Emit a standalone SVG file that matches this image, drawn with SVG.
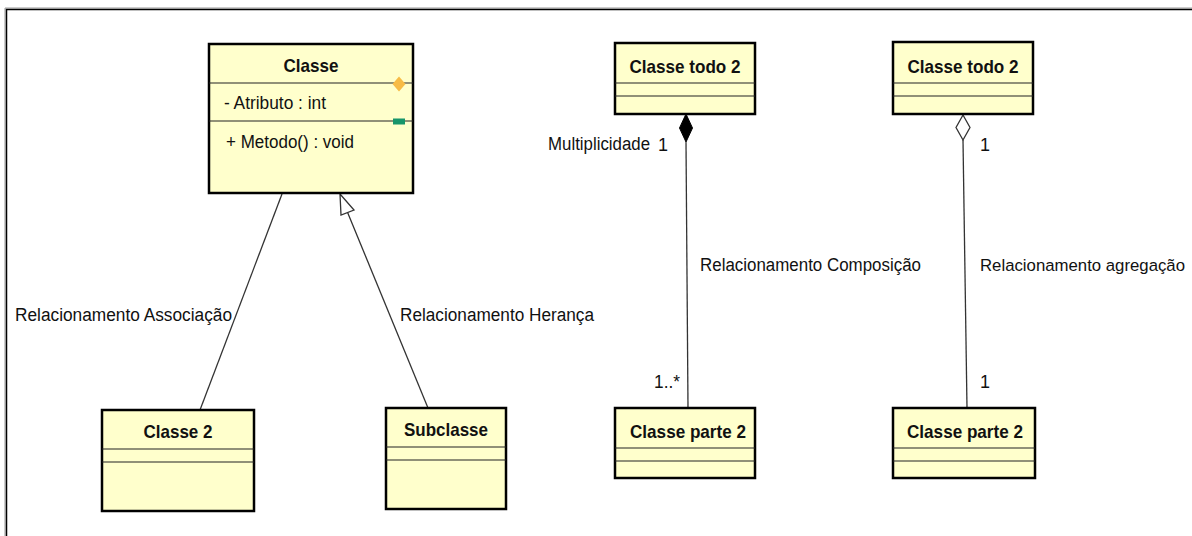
<svg xmlns="http://www.w3.org/2000/svg" width="1192" height="536" viewBox="0 0 1192 536">
<style>
  .box { fill: #ffffcc; stroke: #000; stroke-width: 2.5; }
  .sep { stroke: #222; stroke-width: 1.2; }
  .cls { font-family: "Liberation Sans", Arial, sans-serif; font-size: 19px; font-weight: bold; fill: #111; text-anchor: middle; }
  .lbl { font-family: "Liberation Sans", Arial, sans-serif; font-size: 18px; fill: #111; }
  .edge { stroke: #333; stroke-width: 1.3; fill: none; }
</style>
<rect x="0" y="0" width="1192" height="536" fill="#fff"/>
<path d="M5,536 V8 H1192" fill="none" stroke="#999" stroke-width="1"/>
<path d="M6.5,536 V9.5 H1192" fill="none" stroke="#000" stroke-width="1.5"/>

<g id="connectors">
  <line class="edge" x1="282" y1="194" x2="200" y2="410"/>
  <line class="edge" x1="347.6" y1="212.5" x2="428" y2="408"/>
  <polygon points="340,194 354,210 341,215" fill="#fff" stroke="#333" stroke-width="1.3"/>
  <line class="edge" x1="686" y1="142" x2="688" y2="408"/>
  <polygon points="686,114 692.5,128 686,142 679.5,128" fill="#000" stroke="#000" stroke-width="1"/>
  <line class="edge" x1="963" y1="140" x2="967" y2="408"/>
  <polygon points="963,115 970,127.5 963,140 956,127.5" fill="#fff" stroke="#333" stroke-width="1.3"/>
  <text class="lbl" x="15" y="321" textLength="217" lengthAdjust="spacingAndGlyphs">Relacionamento Associação</text>
  <text class="lbl" x="400" y="321" textLength="194" lengthAdjust="spacingAndGlyphs">Relacionamento Herança</text>
  <text class="lbl" x="548" y="150" textLength="102" lengthAdjust="spacingAndGlyphs">Multiplicidade</text>
  <text class="lbl" x="658" y="151">1</text>
  <text class="lbl" x="700" y="271" textLength="221" lengthAdjust="spacingAndGlyphs">Relacionamento Composição</text>
  <text class="lbl" x="654" y="388" textLength="26" lengthAdjust="spacingAndGlyphs">1..*</text>
  <text class="lbl" x="980" y="151">1</text>
  <text class="lbl" x="980" y="271" style="font-size:16.8px" textLength="205" lengthAdjust="spacingAndGlyphs">Relacionamento agregação</text>
  <text class="lbl" x="980" y="388">1</text>
</g>

<g id="classe">
  <rect class="box" x="209" y="44" width="204" height="149"/>
  <line class="sep" x1="209" y1="83" x2="413" y2="83"/>
  <line class="sep" x1="209" y1="121" x2="413" y2="121"/>
  <text class="cls" x="311" y="72" textLength="55" lengthAdjust="spacingAndGlyphs">Classe</text>
  <text class="lbl" x="224" y="109" textLength="102" lengthAdjust="spacingAndGlyphs">- Atributo : int</text>
  <text class="lbl" x="226" y="148" textLength="128" lengthAdjust="spacingAndGlyphs">+ Metodo() : void</text>
  <polygon points="399,76.5 405.5,84 399,91.5 392.5,84" fill="#f7bb45"/>
  <rect x="393" y="118.5" width="12" height="6" fill="#17956a"/>
</g>

<g id="classe2">
  <rect class="box" x="102" y="410" width="152" height="101"/>
  <line class="sep" x1="102" y1="449" x2="254" y2="449"/>
  <line class="sep" x1="102" y1="462" x2="254" y2="462"/>
  <text class="cls" x="178" y="438" textLength="69" lengthAdjust="spacingAndGlyphs">Classe 2</text>
</g>

<g id="subclasse">
  <rect class="box" x="386" y="408" width="120" height="101"/>
  <line class="sep" x1="386" y1="447" x2="506" y2="447"/>
  <line class="sep" x1="386" y1="460" x2="506" y2="460"/>
  <text class="cls" x="446" y="436" textLength="84" lengthAdjust="spacingAndGlyphs">Subclasse</text>
</g>

<g id="todo-composicao">
  <rect class="box" x="615" y="43" width="140" height="71"/>
  <line class="sep" x1="615" y1="83" x2="755" y2="83"/>
  <line class="sep" x1="615" y1="96" x2="755" y2="96"/>
  <text class="cls" x="685" y="73" textLength="111" lengthAdjust="spacingAndGlyphs">Classe todo 2</text>
</g>

<g id="parte-composicao">
  <rect class="box" x="615" y="408" width="140" height="70"/>
  <line class="sep" x1="615" y1="448" x2="755" y2="448"/>
  <line class="sep" x1="615" y1="461" x2="755" y2="461"/>
  <text class="cls" x="688" y="438" textLength="116" lengthAdjust="spacingAndGlyphs">Classe parte 2</text>
</g>

<g id="todo-agregacao">
  <rect class="box" x="893" y="42" width="140" height="72"/>
  <line class="sep" x1="893" y1="83" x2="1033" y2="83"/>
  <line class="sep" x1="893" y1="96" x2="1033" y2="96"/>
  <text class="cls" x="963" y="73" textLength="111" lengthAdjust="spacingAndGlyphs">Classe todo 2</text>
</g>

<g id="parte-agregacao">
  <rect class="box" x="893" y="408" width="142" height="70"/>
  <line class="sep" x1="893" y1="448" x2="1035" y2="448"/>
  <line class="sep" x1="893" y1="461" x2="1035" y2="461"/>
  <text class="cls" x="965" y="438" textLength="116" lengthAdjust="spacingAndGlyphs">Classe parte 2</text>
</g>
</svg>
